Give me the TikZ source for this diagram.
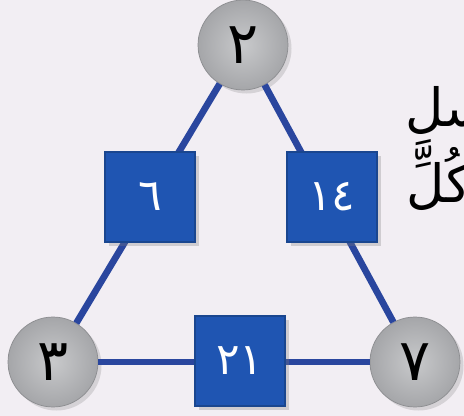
\documentclass[tikz,border=0pt]{standalone}
\usepackage{fontspec}
\setmainfont{DejaVu Sans}
\newfontfamily\arabicfont[Script=Arabic]{DejaVu Sans}
\TeXXeTstate=1
\usetikzlibrary{shadows}
\definecolor{bgpaper}{HTML}{F2EEF3}
\definecolor{edgeblue}{HTML}{2A469E}
\definecolor{boxblue}{HTML}{1F55B2}
\definecolor{boxrim}{HTML}{1A468F}
\definecolor{discin}{HTML}{C8C9CB}
\definecolor{discout}{HTML}{A5A6A9}
\tikzstyle{numdisc} = [circle, minimum size=1.8cm, inner sep=0pt, inner color=discin, outer color=discout,
  draw=discout!85!black, line width=0.4pt, font=\fontsize{33}{36}\selectfont, text=black,
  drop shadow={shadow xshift=2pt, shadow yshift=-2pt, opacity=0.25}]
\tikzstyle{numbox} = [rectangle, minimum size=1.8cm, inner sep=0pt, fill=boxblue, draw=boxrim, line width=1pt,
  font=\fontsize{25}{28}\selectfont, text=white,
  drop shadow={shadow xshift=2pt, shadow yshift=-2pt, opacity=0.3}]
\tikzstyle{edge} = [edgeblue, line width=3.8pt]
\tikzstyle{cuttext} = [anchor=east, inner sep=0pt, font=\arabicfont\fontsize{30}{34}\selectfont, text=black]

\begin{document}
\begin{tikzpicture}[x=0.02cm, y=-0.02cm]
  \useasboundingbox (0,0) rectangle (464,416);
  \fill[bgpaper] (0,0) rectangle (464,416);
  \clip (0,0) rectangle (464,416);

  % === TEXT AT THE RIGHT EDGE ===
  \node (rowa) [cuttext] at (490,116) {\beginR سلِ\endR};
  \node (rowb) [cuttext] at (472,178) {\beginR كُلِّ\endR};

  % === VERTICES ===
  \node (two)   [numdisc] at (243,45)  {٢};
  \node (three) [numdisc] at (53,362)  {٣};
  \node (seven) [numdisc] at (415,362) {٧};

  % === EDGES ===
  \draw[edge] (two) -- (three);
  \draw[edge] (two) -- (seven);
  \draw[edge] (three) -- (seven);

  % === PRODUCTS ===
  \node (six)       [numbox] at (150,197) {٦};
  \node (fourteen)  [numbox] at (332,197) {١٤};
  \node (twentyone) [numbox] at (240,361) {٢١};

\end{tikzpicture}
\end{document}
